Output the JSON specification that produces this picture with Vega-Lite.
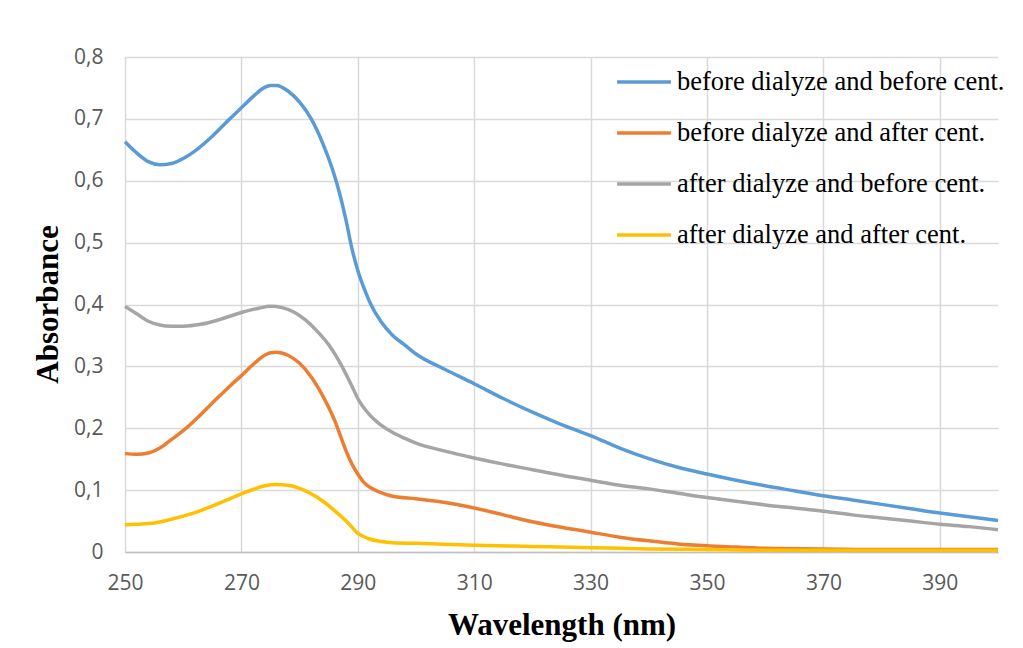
{
  "$schema": "https://vega.github.io/schema/vega-lite/v6.json",
  "width": 873,
  "height": 495,
  "autosize": {"type": "none"},
  "padding": {"left": 125, "top": 57, "right": 25, "bottom": 96},
  "background": "white",
  "config": {"view": {"stroke": null}},
  "datasets": {
    "bb": [[250,0.663],[252,0.645],[254,0.631],[256,0.626],[258,0.628],[260,0.636],[262,0.648],[265,0.672],[268,0.700],[270,0.718],[272,0.736],[274,0.751],[275,0.754],[276,0.754],[278,0.745],[280,0.727],[282,0.700],[284,0.660],[286,0.608],[287,0.575],[288,0.535],[289,0.490],[290,0.455],[291,0.428],[292,0.405],[294,0.372],[296,0.350],[298,0.335],[300,0.320],[305,0.295],[310,0.272],[315,0.248],[320,0.226],[325,0.206],[330,0.188],[335,0.168],[340,0.151],[345,0.137],[350,0.126],[355,0.116],[360,0.107],[365,0.099],[370,0.091],[375,0.084],[380,0.077],[385,0.070],[390,0.063],[395,0.057],[400,0.051]],
    "ba": [[250,0.159],[252,0.158],[254,0.160],[256,0.168],[258,0.182],[260,0.196],[263,0.222],[266,0.250],[268,0.268],[270,0.285],[272,0.303],[274,0.318],[275,0.322],[276,0.323],[278,0.318],[280,0.305],[282,0.283],[284,0.252],[286,0.213],[287,0.188],[288,0.163],[289,0.142],[290,0.126],[291,0.113],[292,0.105],[294,0.096],[296,0.090],[300,0.086],[305,0.080],[310,0.071],[315,0.060],[320,0.049],[325,0.040],[330,0.032],[335,0.024],[340,0.018],[345,0.013],[350,0.010],[355,0.008],[360,0.006],[370,0.005],[380,0.004],[390,0.004],[400,0.004]],
    "ab": [[250,0.397],[252,0.385],[254,0.373],[256,0.367],[258,0.365],[260,0.365],[263,0.368],[266,0.375],[268,0.381],[270,0.387],[273,0.394],[275,0.397],[277,0.395],[279,0.388],[281,0.375],[283,0.357],[285,0.335],[287,0.305],[289,0.268],[290,0.248],[292,0.222],[294,0.205],[296,0.193],[298,0.184],[300,0.176],[305,0.163],[310,0.152],[315,0.142],[320,0.133],[325,0.124],[330,0.116],[335,0.108],[340,0.102],[345,0.095],[350,0.088],[355,0.082],[360,0.076],[365,0.071],[370,0.066],[375,0.060],[380,0.055],[385,0.050],[390,0.045],[395,0.041],[400,0.036]],
    "aa": [[250,0.044],[252,0.045],[255,0.047],[258,0.053],[260,0.058],[263,0.067],[266,0.078],[268,0.086],[270,0.094],[272,0.101],[274,0.107],[276,0.109],[278,0.108],[280,0.103],[282,0.094],[284,0.082],[286,0.067],[288,0.050],[289,0.040],[290,0.030],[291,0.025],[292,0.021],[294,0.017],[296,0.015],[300,0.014],[310,0.011],[320,0.009],[330,0.007],[340,0.005],[350,0.004],[360,0.003],[370,0.003],[380,0.003],[390,0.003],[400,0.003]]
  },
  "layer": [
    {"data": {"name": "bb"}, "transform": [{"calculate": "datum[0]", "as": "wl"}, {"calculate": "datum[1]", "as": "abs"}, {"calculate": "'before dialyze and before cent.'", "as": "series"}], "mark": {"type": "line", "interpolate": "monotone", "strokeWidth": 3.5}, "encoding": {"x": {"field": "wl", "type": "quantitative"}, "y": {"field": "abs", "type": "quantitative"}, "color": {"field": "series", "type": "nominal"}}},
    {"data": {"name": "ba"}, "transform": [{"calculate": "datum[0]", "as": "wl"}, {"calculate": "datum[1]", "as": "abs"}, {"calculate": "'before dialyze and after cent.'", "as": "series"}], "mark": {"type": "line", "interpolate": "monotone", "strokeWidth": 3.5}, "encoding": {"x": {"field": "wl", "type": "quantitative"}, "y": {"field": "abs", "type": "quantitative"}, "color": {"field": "series", "type": "nominal"}}},
    {"data": {"name": "ab"}, "transform": [{"calculate": "datum[0]", "as": "wl"}, {"calculate": "datum[1]", "as": "abs"}, {"calculate": "'after dialyze and before cent.'", "as": "series"}], "mark": {"type": "line", "interpolate": "monotone", "strokeWidth": 3.5}, "encoding": {"x": {"field": "wl", "type": "quantitative"}, "y": {"field": "abs", "type": "quantitative"}, "color": {"field": "series", "type": "nominal"}}},
    {"data": {"name": "aa"}, "transform": [{"calculate": "datum[0]", "as": "wl"}, {"calculate": "datum[1]", "as": "abs"}, {"calculate": "'after dialyze and after cent.'", "as": "series"}], "mark": {"type": "line", "interpolate": "monotone", "strokeWidth": 3.5}, "encoding": {"x": {"field": "wl", "type": "quantitative"}, "y": {"field": "abs", "type": "quantitative"}, "color": {"field": "series", "type": "nominal"}}}
  ],
  "encoding": {
    "x": {"field": "wl", "type": "quantitative",
      "scale": {"domain": [250, 400], "nice": false, "zero": false},
      "axis": {"title": "Wavelength (nm)", "values": [250,270,290,310,330,350,370,390], "format": "d", "labelFlush": false,
        "grid": true, "gridColor": "#D9D9D9", "gridWidth": 1.5, "domain": true, "domainColor": "#BFBFBF", "domainWidth": 1.5,
        "ticks": false, "tickSize": 0, "labelPadding": 20, "labelFont": "Open Sans", "labelFontSize": 21, "labelColor": "#595959",
        "titleFont": "Liberation Serif", "titleFontSize": 31, "titleFontWeight": "bold", "titleColor": "black", "titleY": 73, "titleBaseline": "middle"}},
    "y": {"field": "abs", "type": "quantitative",
      "scale": {"domain": [0, 0.8], "nice": false},
      "axis": {"title": "Absorbance", "values": [0,0.1,0.2,0.3,0.4,0.5,0.6,0.7,0.8], "labelFlush": false,
        "labelExpr": "datum.value == 0 ? '0' : replace(format(datum.value, '.1f'), '.', ',')",
        "grid": true, "gridColor": "#D9D9D9", "gridWidth": 1.5, "domain": false,
        "ticks": false, "tickSize": 0, "labelPadding": 22, "labelFont": "Open Sans", "labelFontSize": 21, "labelColor": "#595959",
        "titleFont": "Liberation Serif", "titleFontSize": 31, "titleFontWeight": "bold", "titleColor": "black", "titleX": -77, "titleY": 247, "titleBaseline": "middle", "titleAngle": -90}},
    "color": {"field": "series", "type": "nominal",
      "scale": {"domain": ["before dialyze and before cent.", "before dialyze and after cent.", "after dialyze and before cent.", "after dialyze and after cent."],
        "range": ["#5B9BD5", "#ED7D31", "#A5A5A5", "#FFC000"]},
      "legend": {"title": null, "orient": "none", "legendX": 490, "legendY": -4, "symbolType": "stroke", "symbolSize": 2900, "symbolStrokeWidth": 3.5,
        "labelFont": "Liberation Serif", "labelFontSize": 26.5, "labelColor": "black", "labelOffset": 4, "rowPadding": 8, "labelLimit": 500}}
  }
}
